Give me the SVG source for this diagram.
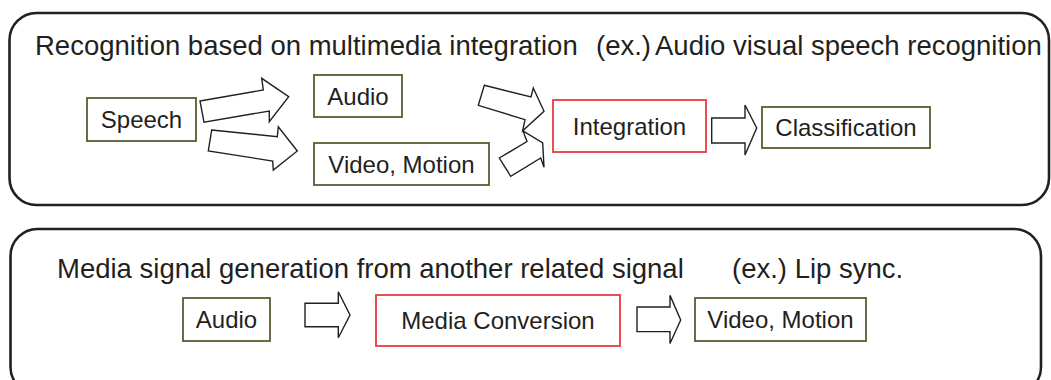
<svg xmlns="http://www.w3.org/2000/svg" width="1051" height="380" viewBox="0 0 1051 380">
  <style>
    .panel { fill: #ffffff; stroke: #231f20; stroke-width: 2.6; }
    .box { fill: #ffffff; stroke: #5b5c30; stroke-width: 1.8; }
    .proc { fill: #ffffff; stroke: #ec3a3f; stroke-width: 1.8; }
    .arrow { fill: #ffffff; stroke: #231f20; stroke-width: 1.4; stroke-linejoin: miter; }
    text { font-family: "Liberation Sans", Arial, sans-serif; fill: #231f20; }
    .title { font-size: 27.5px; }
    .label { font-size: 24px; text-anchor: middle; }
  </style>

  <rect x="0" y="0" width="1051" height="380" fill="#ffffff"/>

  <!-- upper panel: recognition -->
  <g id="panel-recognition">
    <rect class="panel" x="9.5" y="13" width="1039.5" height="192" rx="27" ry="27"/>
    <text class="title" x="35" y="55">Recognition based on multimedia integration<tspan x="596">(ex.)</tspan><tspan x="655">Audio visual speech recognition</tspan></text>
  </g>

  <!-- lower panel: generation -->
  <g id="panel-generation">
    <rect class="panel" x="10.5" y="229" width="1030.5" height="165" rx="27" ry="27"/>
    <text class="title" x="57" y="278">Media signal generation from another related signal<tspan x="732">(ex.) Lip sync.</tspan></text>
  </g>

  <g id="node-speech">
    <rect class="box" x="87" y="98" width="109" height="43"/>
    <text class="label" x="141.5" y="128">Speech</text>
  </g>
  <g id="node-audio-in">
    <rect class="box" x="314" y="75" width="88" height="42"/>
    <text class="label" x="358" y="104.5">Audio</text>
  </g>
  <g id="node-video-in">
    <rect class="box" x="314" y="143" width="175" height="42"/>
    <text class="label" x="401.5" y="172.5">Video, Motion</text>
  </g>
  <g id="node-integration">
    <rect class="proc" x="553" y="100" width="153" height="52"/>
    <text class="label" x="629.5" y="134.5">Integration</text>
  </g>
  <g id="node-classification">
    <rect class="box" x="762" y="107" width="168" height="41"/>
    <text class="label" x="846" y="136">Classification</text>
  </g>

  <g id="node-audio-src">
    <rect class="box" x="183" y="298" width="87" height="43"/>
    <text class="label" x="226.5" y="328">Audio</text>
  </g>
  <g id="node-conversion">
    <rect class="proc" x="376" y="295" width="244" height="51"/>
    <text class="label" x="498" y="329">Media Conversion</text>
  </g>
  <g id="node-video-out">
    <rect class="box" x="695" y="298" width="171" height="43"/>
    <text class="label" x="780.5" y="328">Video, Motion</text>
  </g>

  <!-- block arrows -->
  <g id="connectors">
    <polygon class="arrow" points="200,101 263.3,90 261.7,78.3 288.7,96.7 269.3,121.7 269.3,111 204,122.3"/>
    <polygon class="arrow" points="211.7,130 277.3,136.7 278.3,126.7 297.3,151 273.3,170 272.7,161 208.3,151"/>
    <polygon class="arrow" points="484.3,85.3 531,97 533.3,88 544,111.3 522.7,130.7 525,119.7 478.3,105.3"/>
    <polygon class="arrow" points="499.3,158 527,141.5 523,131 542.7,143 544,167.3 540.7,158 510.7,176.3"/>
    <polygon class="arrow" points="711.7,118 745,118 745,105 756.7,128 745,155 745,143 711.7,143"/>
    <polygon class="arrow" points="305,303.3 338.3,303.3 338.3,291.7 350,315 338.3,337.7 338.3,326.7 305,326.7"/>
    <polygon class="arrow" points="637,307 670,307 670,295.4 680.7,320 670,343.5 670,331.6 637,331.6"/>
  </g>
</svg>
